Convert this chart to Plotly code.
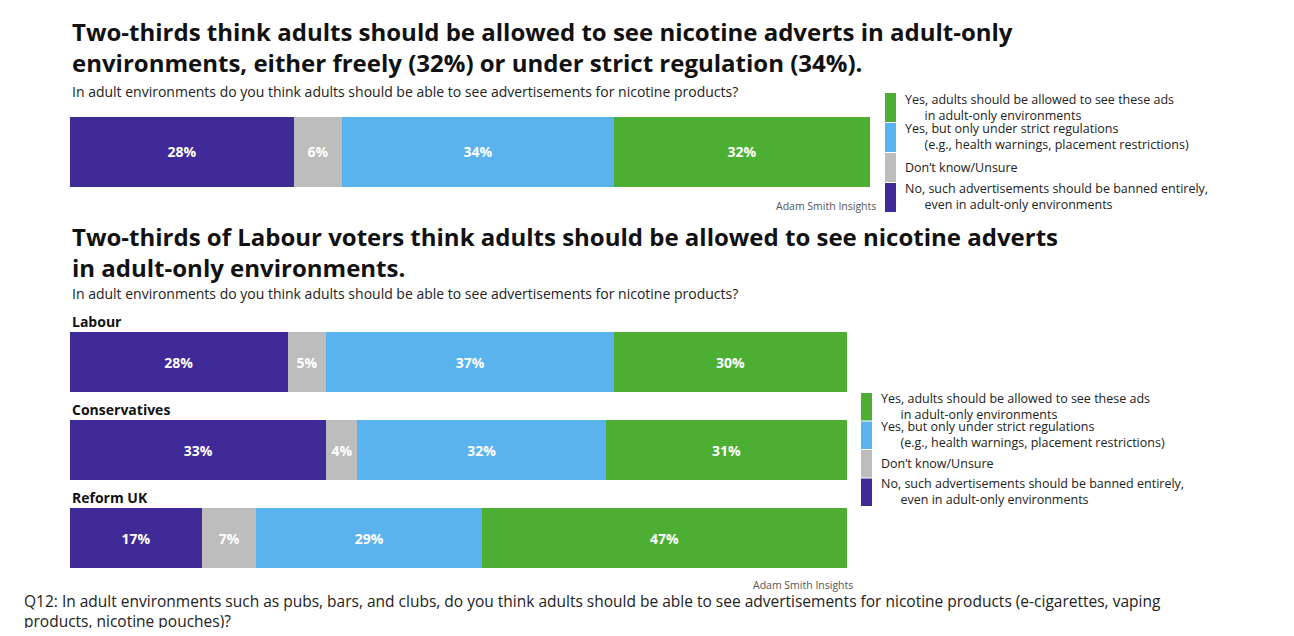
import plotly.graph_objects as go

W, H = 1278, 620
OFF = 8  # page body margin

# answer categories (stack order left to right)
answers = ["No, banned", "Don't know", "Strict regulation", "Yes, freely"]
colours = ["#3F2A98", "#BDBDBD", "#5BB3EE", "#4CAF33"]

overall_values = [28, 6, 34, 32]

parties = ["Labour", "Conservatives", "Reform UK"]
party_values = {
    "No, banned": [28, 33, 17],
    "Don't know": [5, 4, 7],
    "Strict regulation": [37, 32, 29],
    "Yes, freely": [30, 31, 47],
}

legend_labels = [
    "Yes, adults should be allowed to see these ads<br>      in adult-only environments",
    "Yes, but only under strict regulations<br>      (e.g., health warnings, placement restrictions)",
    "Don’t know/Unsure",
    "No, such advertisements should be banned entirely,<br>      even in adult-only environments",
]
legend_colours = ["#4CAF33", "#5BB3EE", "#BDBDBD", "#3F2A98"]

FONT = "Open Sans"
BARGAP = 28 / 88


def px(x):
    return (x - OFF) / W


def py(y):
    return 1 - (y - OFF) / H


fig = go.Figure()

for i, a in enumerate(answers):
    fig.add_trace(go.Bar(
        x=[overall_values[i]], y=["All"], orientation="h",
        marker=dict(color=colours[i], line=dict(width=0)),
        text=[f"<b>{overall_values[i]}%</b>"], textposition="inside", insidetextanchor="middle",
        textfont=dict(color="white", size=14, family=FONT),
        xaxis="x", yaxis="y", showlegend=False, hoverinfo="skip",
    ))
    fig.add_trace(go.Bar(
        x=party_values[a], y=parties, orientation="h",
        marker=dict(color=colours[i], line=dict(width=0)),
        text=[f"<b>{v}%</b>" for v in party_values[a]], textposition="inside",
        insidetextanchor="middle",
        textfont=dict(color="white", size=14, family=FONT),
        xaxis="x2", yaxis="y2", showlegend=False, hoverinfo="skip",
    ))

# top chart: single bar from y=117 to 187 px
pitch_top = 70 / (1 - BARGAP)
pad_top = (pitch_top - 70) / 2
fig.update_layout(
    width=W, height=H, margin=dict(l=0, r=0, t=0, b=0),
    paper_bgcolor="white", plot_bgcolor="white",
    barmode="stack", bargap=BARGAP,
    uniformtext=dict(minsize=8, mode="show"),
    font=dict(family=FONT, color="#222"),
    xaxis=dict(domain=[px(70), px(870)], range=[0, 100], visible=False),
    yaxis=dict(domain=[py(187 + pad_top), py(117 - pad_top)], visible=False),
    xaxis2=dict(domain=[px(70), px(847)], range=[0, 100], visible=False),
    yaxis2=dict(domain=[py(582), py(318)], autorange="reversed", visible=False),
)

ann = []


def text(x, y, s, size, color="#222", xanchor="left", yanchor="middle"):
    ann.append(dict(x=px(x), y=py(y), xref="paper", yref="paper", text=s,
                    showarrow=False, xanchor=xanchor, yanchor=yanchor, align="left",
                    font=dict(size=size, color=color, family=FONT)))


text(70, 47, "<b>Two-thirds think adults should be allowed to see nicotine adverts in adult-only<br>"
     "environments, either freely (32%) or under strict regulation (34%).</b>", 24, "#111")
text(70, 91, "In adult environments do you think adults should be able to see advertisements for nicotine products?", 14)
text(878, 206, "Adam Smith Insights", 10.5, color="#555", xanchor="right")
text(70, 252, "<b>Two-thirds of Labour voters think adults should be allowed to see nicotine adverts<br>"
     "in adult-only environments.</b>", 24, "#111")
text(70, 293, "In adult environments do you think adults should be able to see advertisements for nicotine products?", 14)
for p, y in zip(parties, [321, 409, 497]):
    text(70, y, f"<b>{p}</b>", 14, "#111")
text(855, 585, "Adam Smith Insights", 10.5, color="#555", xanchor="right")
text(22, 611, "Q12: In adult environments such as pubs, bars, and clubs, do you think adults should be able to see "
     "advertisements for nicotine products (e-cigarettes, vaping<br>products, nicotine pouches)?", 15.5)

shapes = []


def legend(x0, y0, seg):
    for k, (lab, col) in enumerate(zip(legend_labels, legend_colours)):
        top = y0 + k * seg
        shapes.append(dict(type="rect", xref="paper", yref="paper", x0=px(x0), x1=px(x0 + 11),
                           y0=py(top + seg - 1), y1=py(top), fillcolor=col, line=dict(width=0)))
        text(x0 + 18, top + seg / 2 - 1, lab, 12.5)


legend(885, 93, 30)
legend(861, 393, 28.5)

fig.update_layout(annotations=ann, shapes=shapes)
fig.write_html("out.html")
